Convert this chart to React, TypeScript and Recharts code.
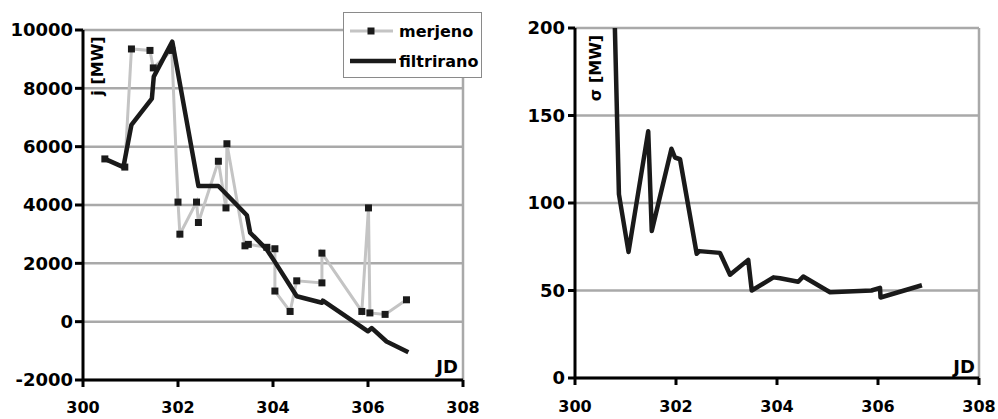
import React from "react";
import { LineChart, Line, XAxis, YAxis, CartesianGrid, ReferenceLine, Legend } from "recharts";

// measured (merjeno) values, left panel
const measuredJD = [300.46, 300.88, 301.02, 301.41, 301.48, 301.87, 302.0, 302.04, 302.39, 302.43, 302.85, 303.01, 303.03, 303.41, 303.48, 303.87, 304.04, 304.04, 304.36, 304.5, 305.03, 305.03, 305.87, 306.01, 306.04, 306.36, 306.81];
const measuredJ = [5580, 5300, 9350, 9300, 8700, 9300, 4100, 3000, 4100, 3400, 5500, 3900, 6100, 2600, 2650, 2550, 2500, 1050, 350, 1400, 1330, 2350, 350, 3900, 300, 250, 750];

// filtered (filtrirano) values, left panel
const filteredJD = [300.46, 300.85, 301.02, 301.45, 301.49, 301.88, 302.43, 302.85, 303.03, 303.45, 303.52, 303.87, 304.04, 304.5, 305.03, 305.05, 306.0, 306.08, 306.39, 306.85];
const filteredJ = [5580, 5300, 6750, 7650, 8400, 9600, 4650, 4650, 4350, 3650, 3050, 2470, 2050, 870, 650, 720, -330, -220, -680, -1050];

// sigma, right panel
const sigmaJD = [300.46, 300.87, 301.06, 301.45, 301.52, 301.91, 301.98, 302.08, 302.41, 302.46, 302.87, 303.07, 303.43, 303.5, 303.93, 304.06, 304.42, 304.52, 305.05, 305.87, 306.04, 306.05, 306.87];
const sigmaVal = [590, 105, 72, 141, 84, 131, 126, 125, 71, 72.5, 71.5, 59, 67.5, 50, 57.5, 57, 55, 58, 49, 50, 51.5, 46, 53];

const xTicks = [300, 302, 304, 306, 308];
const jTicks = [-2000, 0, 2000, 4000, 6000, 8000, 10000];
const sigmaTicks = [0, 50, 100, 150, 200];

const measured = measuredJD.map((jd, i) => ({ jd, v: measuredJ[i] }));
const filtered = filteredJD.map((jd, i) => ({ jd, v: filteredJ[i] }));
const sigma = sigmaJD.map((jd, i) => ({ jd, v: sigmaVal[i] }));

const FONT = "'DejaVu Sans', sans-serif";
const GRID = "#a9a9a9";
const GREY_LINE = "#c4c4c4";
const INK = "#1a1a1a";

const axisLine = { stroke: "#000", strokeWidth: 3 };
const xTick = { fill: "#000", fontSize: 16, fontWeight: "bold", fontFamily: FONT };
const yTick = { fill: "#000", fontSize: 18, fontWeight: "bold", fontFamily: FONT };

const SquareDot = (p: any) => (
  <rect key={`sq-${p.index}`} x={p.cx - 3.5} y={p.cy - 3.5} width={7} height={7} fill={INK} />
);

// rotated title, just right of the y axis
const yTitle = (text: string, dx: number, dy: number) => (props: any) => {
  const { x, y, width } = props.viewBox;
  const cx = x + width + dx;
  const cy = y + dy;
  return (
    <text
      x={cx}
      y={cy}
      transform={`rotate(-90 ${cx} ${cy})`}
      textAnchor="middle"
      dominantBaseline="central"
      fontFamily={FONT}
      fontWeight="bold"
      fontSize={16}
      fill="#000"
    >
      {text}
    </text>
  );
};

const jdTitle = (inset: number, lift: number) => (props: any) => {
  const { x, y, width } = props.viewBox;
  return (
    <text x={x + width - inset} y={y - lift} textAnchor="end" fontFamily={FONT} fontWeight="bold" fontSize={18} fill="#000">
      JD
    </text>
  );
};

const LegendBox = () => (
  <div
    style={{
      background: "#fff",
      border: "1px solid #8a8a8a",
      width: 137,
      height: 64,
      fontFamily: FONT,
      fontWeight: "bold",
      fontSize: 16,
      color: "#000",
      boxSizing: "content-box",
    }}
  >
    <div style={{ display: "flex", alignItems: "center", height: 32, marginTop: 2 }}>
      <svg width={55} height={12}>
        <line x1={6} y1={6} x2={49} y2={6} stroke={GREY_LINE} strokeWidth={3} />
        <rect x={23.5} y={2.5} width={7} height={7} fill={INK} />
      </svg>
      <span>merjeno</span>
    </div>
    <div style={{ display: "flex", alignItems: "center", height: 28 }}>
      <svg width={55} height={12}>
        <line x1={6} y1={6} x2={52} y2={6} stroke={INK} strokeWidth={4.5} />
      </svg>
      <span>filtrirano</span>
    </div>
  </div>
);

export default function App() {
  return (
    <div style={{ position: "absolute", left: 0, top: 0, width: 998, height: 419, background: "#fff" }}>
      <div style={{ position: "absolute", left: 0, top: 0 }}>
        <LineChart width={490} height={419} margin={{ top: 30, right: 27, bottom: 0, left: 0 }}>
          <CartesianGrid horizontal vertical={false} stroke={GRID} strokeWidth={2.5} />
          <ReferenceLine x={308} stroke={GRID} strokeWidth={2.5} />
          <XAxis
            type="number"
            dataKey="jd"
            domain={[300, 308]}
            ticks={xTicks}
            height={39}
            tickSize={7}
            tickMargin={15}
            axisLine={axisLine}
            tickLine={axisLine}
            tick={xTick}
            label={{ content: jdTitle(5, 7) }}
          />
          <YAxis
            type="number"
            domain={[-2000, 10000]}
            ticks={jTicks}
            width={83}
            tickSize={8}
            tickMargin={2}
            axisLine={axisLine}
            tickLine={axisLine}
            tick={yTick}
            label={{ content: yTitle("j [MW]", 14, 36) }}
          />
          <Line
            data={measured}
            dataKey="v"
            name="merjeno"
            type="linear"
            stroke={GREY_LINE}
            strokeWidth={3}
            dot={SquareDot}
            activeDot={false}
            isAnimationActive={false}
          />
          <Line
            data={filtered}
            dataKey="v"
            name="filtrirano"
            type="linear"
            stroke={INK}
            strokeWidth={4.5}
            strokeLinejoin="round"
            dot={false}
            activeDot={false}
            isAnimationActive={false}
          />
          <Legend
            layout="horizontal"
            verticalAlign="middle"
            align="center"
            content={() => <LegendBox />}
            wrapperStyle={{ position: "absolute", left: 343, top: 12, width: "auto", height: "auto" }}
          />
        </LineChart>
      </div>
      <div style={{ position: "absolute", left: 490, top: 0 }}>
        <LineChart width={508} height={419} margin={{ top: 28, right: 19, bottom: 0, left: 0 }}>
          <CartesianGrid horizontal vertical={false} stroke={GRID} strokeWidth={2.5} />
          <ReferenceLine x={308} stroke={GRID} strokeWidth={2.5} />
          <XAxis
            type="number"
            dataKey="jd"
            domain={[300, 308]}
            ticks={xTicks}
            height={41}
            tickSize={7}
            tickMargin={16}
            axisLine={axisLine}
            tickLine={axisLine}
            tick={xTick}
            label={{ content: jdTitle(4, 5) }}
          />
          <YAxis
            type="number"
            domain={[0, 200]}
            allowDataOverflow
            ticks={sigmaTicks}
            width={85}
            tickSize={7}
            tickMargin={3}
            axisLine={axisLine}
            tickLine={axisLine}
            tick={yTick}
            label={{ content: yTitle("σ [MW]", 20, 40) }}
          />
          <Line
            data={sigma}
            dataKey="v"
            type="linear"
            stroke={INK}
            strokeWidth={4.5}
            strokeLinejoin="round"
            dot={false}
            activeDot={false}
            isAnimationActive={false}
          />
        </LineChart>
      </div>
    </div>
  );
}
